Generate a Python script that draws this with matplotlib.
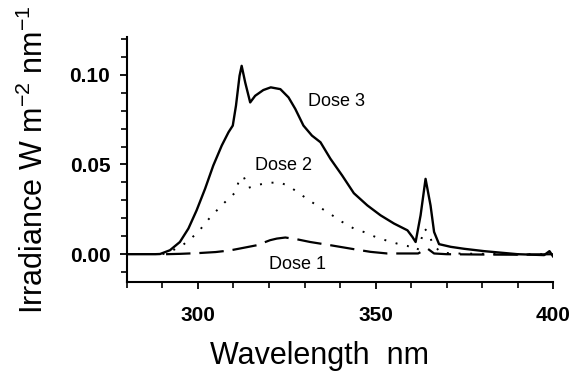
import numpy as np
import matplotlib
matplotlib.use('Agg')
import matplotlib.pyplot as plt
from matplotlib.ticker import MultipleLocator

plt.rcParams['font.family'] = ['Liberation Sans', 'DejaVu Sans']

# Dose 3 (solid)
wl3 = [280, 285, 288, 289.3, 292.1, 294.9, 297.3, 299.6, 302, 304.3, 306.7,
       308.6, 309.8, 310.7, 311.7, 312.3, 313.3, 314.7, 316.1, 318.4, 320.5,
       323.2, 325.5, 327.4, 329.7, 332.1, 334.5, 337.3, 340.6, 343.9, 347.7,
       351.4, 355.2, 359, 360.4, 361.3, 362.7, 364.1, 365.5, 366.5, 367.9,
       371.2, 375, 380.6, 385, 390, 397.5, 399, 400]
irr3 = [0.0, 0.0, 0.0, 0.0001, 0.0022, 0.0068, 0.0143, 0.0244, 0.0365, 0.0494,
        0.0606, 0.068, 0.0717, 0.0828, 0.0994, 0.105, 0.0957, 0.0846, 0.0883,
        0.0915, 0.093, 0.092, 0.0874, 0.081, 0.0717, 0.0661, 0.0624, 0.0532,
        0.0439, 0.0340, 0.0272, 0.0217, 0.0171, 0.0133, 0.0096, 0.0068, 0.0217,
        0.042, 0.0272, 0.0124, 0.0056, 0.0041, 0.003, 0.0017, 0.0009, 0.0,
        -0.0005, 0.0017, -0.0012]

# Dose 2 (dotted)
wl2 = [290, 292.5, 295.4, 298.2, 300.6, 302.9, 305.3, 307.9, 310.3, 311.4,
       312.8, 314.2, 317, 319.9, 323.2, 326, 329.3, 332.1, 334.9, 337.8, 340.6,
       343.9, 346.7, 350, 352.8, 356.1, 359, 361.8, 362.9, 363.8, 365.1, 366,
       368.4, 372, 380, 390, 400]
irr2 = [0.0, 0.0018, 0.0046, 0.009, 0.0137, 0.0193, 0.0244, 0.0296, 0.034,
        0.040, 0.0435, 0.037, 0.0387, 0.0398, 0.040, 0.0374, 0.0328, 0.029,
        0.0254, 0.0217, 0.018, 0.0143, 0.0124, 0.0096, 0.0078, 0.0059, 0.0046,
        0.0022, 0.0083, 0.0143, 0.0115, 0.0059, 0.0009, 0.0004, 0.0002, 0.0,
        0.0]

# Dose 1 (dashed)
wl1 = [291, 295, 300, 305, 309, 311.9, 316.6, 320.3, 322.2, 324.6, 327.9,
       331.6, 337.3, 343.9, 348.6, 353.3, 357.1, 362, 363.3, 364.6, 366.5, 370,
       380, 390, 400]
irr1 = [0.0, 0.0002, 0.0006, 0.0012, 0.0021, 0.0032, 0.005, 0.0078, 0.0087,
        0.0093, 0.0083, 0.0068, 0.005, 0.0028, 0.0013, 0.0004, 0.0004, 0.0004,
        0.0018, 0.0032, 0.0004, 0.0, -0.0002, -0.0003, 0.0]

fig = plt.figure(figsize=(5.71, 3.75), dpi=100)
ax = fig.add_axes([0.2224, 0.248, 0.7461, 0.653])

ax.plot(wl3, irr3, color='black', lw=1.7, solid_joinstyle='round')
ax.plot(wl2, irr2, color='black', lw=1.4, linestyle=(0, (1, 5)))
ax.plot(wl1, irr1, color='black', lw=1.6, linestyle=(0, (11, 4)))

ax.text(339, 0.085, 'Dose 3', fontsize=13, ha='center', va='center')
ax.text(324, 0.0494, 'Dose 2', fontsize=13, ha='center', va='center')
ax.text(328, -0.0055, 'Dose 1', fontsize=13, ha='center', va='center')

ax.set_xlim(280, 400)
ax.set_ylim(-0.0155, 0.121)
ax.xaxis.set_major_locator(MultipleLocator(50))
ax.xaxis.set_minor_locator(MultipleLocator(10))
ax.yaxis.set_major_locator(MultipleLocator(0.05))
ax.yaxis.set_minor_locator(MultipleLocator(0.01))
ax.yaxis.set_major_formatter(plt.FormatStrFormatter('%.2f'))

ax.spines['top'].set_visible(False)
ax.spines['right'].set_visible(False)
ax.spines['left'].set_linewidth(1.5)
ax.spines['bottom'].set_linewidth(1.5)

ax.tick_params(which='major', length=5, width=1.3, direction='out')
ax.tick_params(which='minor', length=4, width=1.2, direction='out')
ax.tick_params(axis='x', which='major', pad=12)
ax.tick_params(axis='y', which='major', pad=7)
for lab in ax.get_xticklabels() + ax.get_yticklabels():
    lab.set_fontsize(15)
    lab.set_fontweight('bold')

ax.set_xlabel('Wavelength  nm', fontsize=22, labelpad=12)
ax.xaxis.label.set_x(0.453)
ax.set_ylabel('Irradiance W m$^{\\mathregular{-2}}$ nm$^{\\mathregular{-1}}$',
              fontsize=22, labelpad=14)

fig.savefig('out.png', dpi=100)
